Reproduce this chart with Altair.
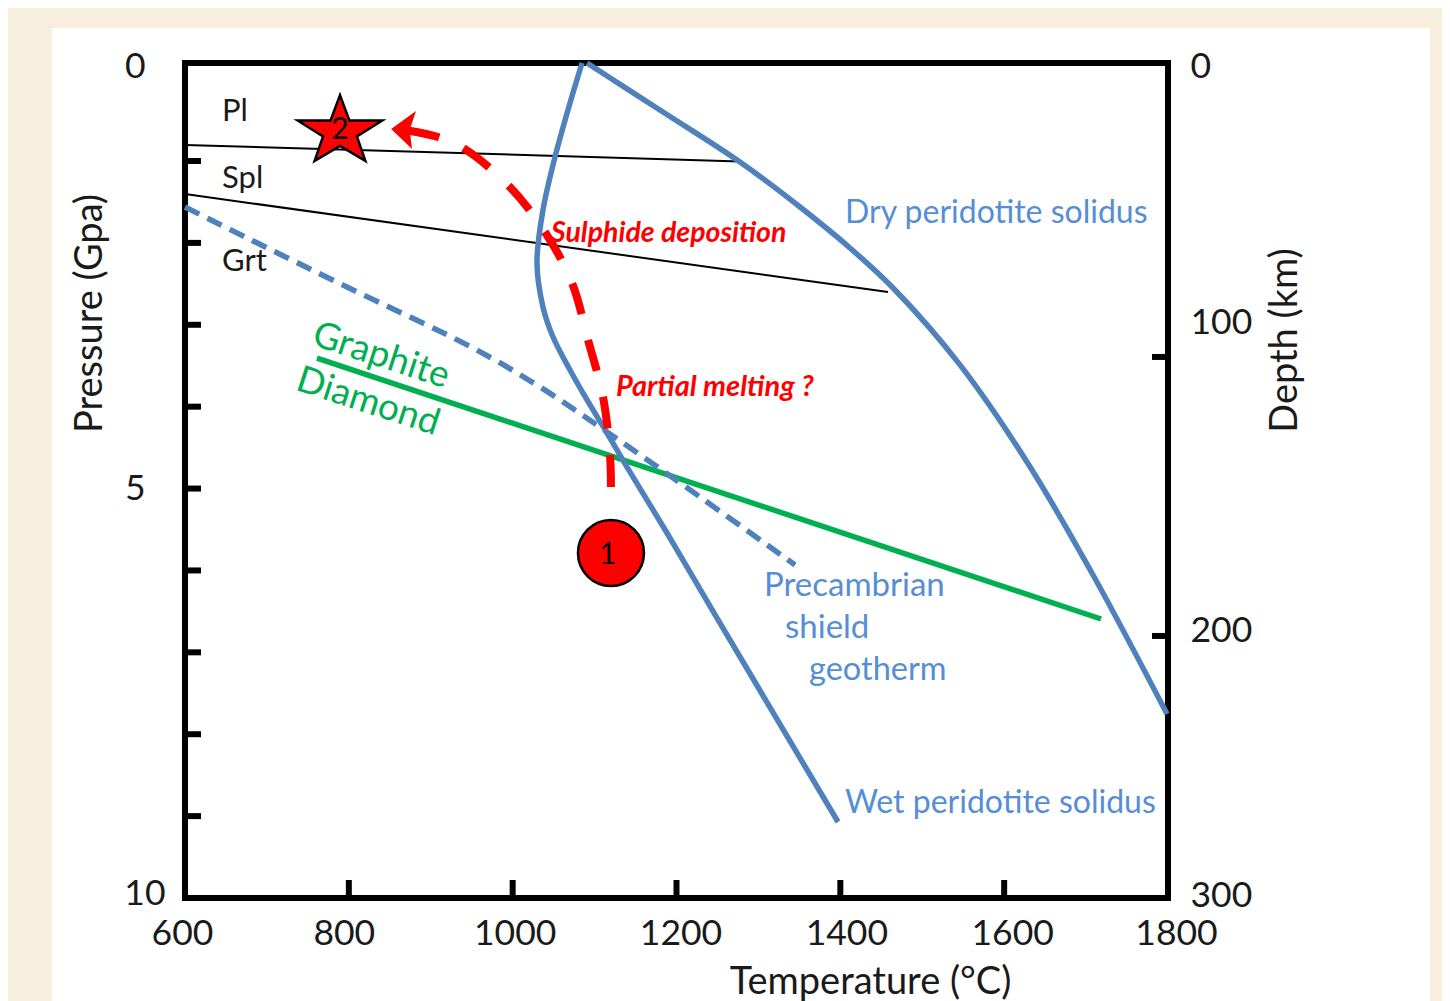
import altair as alt
import pandas as pd

FONT = "Lato"
BLUE = "#4f81bd"
TEXT_BLUE = "#558ed5"
GREEN = "#00b050"
RED = "#ff0000"

# Temperature (deg C) / pressure (GPa) pairs
dry_t = [1090.8, 1183.5, 1277.5, 1350.8, 1411.8, 1466.8, 1546.1, 1627.9, 1708.5, 1798.8]
dry_p = [0, 0.5, 1.012, 1.562, 2.062, 2.575, 3.49, 4.676, 6.056, 7.753]
wet_t = [1084.7, 1070, 1051.7, 1037, 1029.7, 1037, 1049.3, 1070, 1090.8, 1115.2, 1139.6, 1188.4, 1249.5, 1397.2]
wet_p = [0, 0.408, 0.959, 1.598, 2.246, 2.783, 3.149, 3.552, 3.918, 4.322, 4.737, 5.543, 6.581, 9.072]
geo_t = [600, 675.7, 797.8, 951.6, 1033.4, 1115.2, 1208, 1344.7]
geo_p = [1.562, 1.94, 2.539, 3.284, 3.76, 4.309, 4.956, 5.933]
gd_t = [761.1, 1718.3]
gd_p = [3.406, 6.593]
pl_t = [600, 1277.5]
pl_p = [0.837, 1.005]
spl_t = [600, 1458.2]
spl_p = [1.403, 2.6]
path_t = [1120, 1118.8, 1110.3, 1092, 1072.5, 1039.5, 994.3, 939.4, 908.9, 868.6]
path_p = [4.981, 4.59, 3.882, 3.186, 2.49, 1.867, 1.293, 0.867, 0.755, 0.684]

left_ticks = [1, 2, 3, 4, 5, 6, 7, 8, 9]
bottom_ticks = [800, 1000, 1200, 1400, 1600]
right_ticks = [3.393, 6.8]
x_values = [600, 800, 1000, 1200, 1400, 1600, 1800]
y_values = [0, 5, 10]
depth_values = [0, 100, 200, 300]

labels = [
    ("Pl", 645.2, 0.5, "#1a1a1a", 31, "normal", "normal", "left", 0),
    ("Spl", 645.2, 1.22, "#1a1a1a", 31, "normal", "normal", "left", 0),
    ("Grt", 645.2, 2.234, "#1a1a1a", 31, "normal", "normal", "left", 0),
    ("Graphite", 839.3, 3.381, GREEN, 37, "normal", "normal", "center", 18),
    ("Diamond", 823.4, 3.943, GREEN, 37, "normal", "normal", "center", 18),
    ("Precambrian", 1306.8, 6.19, TEXT_BLUE, 33, "normal", "normal", "left", 0),
    ("shield", 1332.5, 6.703, TEXT_BLUE, 33, "normal", "normal", "left", 0),
    ("geotherm", 1361.8, 7.216, TEXT_BLUE, 32.5, "normal", "normal", "left", 0),
    ("Dry peridotite solidus", 1405.7, 1.63, TEXT_BLUE, 32, "normal", "normal", "left", 0),
    ("Wet peridotite solidus", 1405.7, 8.835, TEXT_BLUE, 32, "normal", "normal", "left", 0),
    ("Sulphide deposition", 1046.8, 1.88, RED, 28.5, "bold", "italic", "left", 0),
    ("Partial melting ?", 1126.2, 3.76, RED, 29, "bold", "italic", "left", 0),
]

def cond(offsets, default=0):
    return {
        "condition": [{"test": f"datum.value == {k}", "value": v} for k, v in offsets.items()],
        "value": default,
    }

axis_style = dict(
    grid=False, domain=False, ticks=False, zindex=1,
    labelFont=FONT, labelFontSize=35.5, labelColor="#1a1a1a", labelOverlap=False, labelFlush=False,
    titleFont=FONT, titleFontSize=38, titleFontWeight="normal", titleColor="#1a1a1a",
)

x_scale = alt.Scale(domain=[600, 1800], range=[0, 983], nice=False, zero=False)
y_scale = alt.Scale(domain=[0, 1, 10], range=[0, 98, 835], nice=False, zero=False)
x_enc = alt.X(
    "t:Q", scale=x_scale,
    axis=alt.Axis(
        values=x_values, title="Temperature (°C)", format="d", orient="bottom",
        labelOffset=cond({600: -3, 800: -5, 1000: 2, 1200: 4, 1400: 6, 1600: 8, 1800: 8}),
        labelPadding=18, titleX=685, titleY=84, titleAlign="center", titleBaseline="middle",
        **axis_style,
    ),
)
y_enc = alt.Y(
    "p:Q", scale=y_scale,
    axis=alt.Axis(
        values=y_values, title="Pressure (Gpa)", format="d", orient="left",
        labelOffset=cond({0: 3, 10: -5}), labelPadding=cond({10: 20}, 40), labelBaseline="middle",
        titleX=-95, titleY=250, titleAngle=270, titleAlign="center", titleBaseline="middle",
        **axis_style,
    ),
)

def line(ts, ps, color, width, dash=None, interpolate="catmull-rom"):
    df = pd.DataFrame({"t": ts, "p": ps, "i": range(len(ts))})
    kw = dict(color=color, strokeWidth=width, interpolate=interpolate, clip=False, strokeCap="butt")
    if dash:
        kw["strokeDash"] = dash
    return alt.Chart(df).mark_line(**kw).encode(x=x_enc, y=y_enc, order=alt.Order("i:Q"))

def rule(df):
    enc = dict(x=x_enc, y=y_enc)
    if "t2" in df:
        enc["x2"] = "t2:Q"
    if "p2" in df:
        enc["y2"] = "p2:Q"
    return alt.Chart(df).mark_rule(color="black", strokeWidth=6).encode(**enc)

panel = alt.Chart(pd.DataFrame({"t": [437.6], "t2": [2120], "p": [-0.357], "p2": [11.26]})).mark_rect(
    color="white", clip=False
).encode(x=x_enc, x2="t2:Q", y=y_enc, y2="p2:Q")

frame = alt.Chart(pd.DataFrame({"t": [600], "t2": [1800], "p": [0], "p2": [10]})).mark_rect(
    fill="transparent", stroke="black", strokeWidth=6, strokeJoin="miter"
).encode(x=x_enc, x2="t2:Q", y=y_enc, y2="p2:Q")

ticks_l = rule(pd.DataFrame({"p": left_ticks, "t": [600] * 9, "t2": [619.5] * 9}))
ticks_r = rule(pd.DataFrame({"p": right_ticks, "t": [1800] * 2, "t2": [1780.5] * 2}))
ticks_b = rule(pd.DataFrame({"t": bottom_ticks, "p": [10] * 5, "p2": [9.78] * 5}))

ARROW = "M-1.04,0 L0.09,-0.82 L-0.2,0.05 L-0.09,0.91 Z"
STAR = ("M0,-0.76 L0.217,-0.174 L0.978,-0.174 L0.391,0.196 L0.587,0.761 L0,0.413 "
        "L-0.587,0.761 L-0.391,0.196 L-0.978,-0.174 L-0.217,-0.174 Z")

arrow = alt.Chart(pd.DataFrame({"t": [879.6], "p": [0.673]})).mark_point(
    shape=ARROW, size=1936, filled=True, color=RED, opacity=1
).encode(x=x_enc, y=y_enc)
star = alt.Chart(pd.DataFrame({"t": [789.2], "p": [0.663]})).mark_point(
    shape=STAR, size=7480, filled=True, fill=RED, stroke="black", strokeWidth=2.5, opacity=1
).encode(x=x_enc, y=y_enc)
circle = alt.Chart(pd.DataFrame({"t": [1120], "p": [5.787]})).mark_point(
    shape="circle", size=4356, filled=True, fill=RED, stroke="black", strokeWidth=2.5, opacity=1
).encode(x=x_enc, y=y_enc)
numbers = alt.Chart(pd.DataFrame({"t": [789.2, 1116], "p": [0.68, 5.81], "s": ["2", "1"]})).mark_text(
    font=FONT, fontSize=30, color="black", align="center", baseline="middle"
).encode(x=x_enc, y=y_enc, text="s:N")

texts = []
for s, t, p, col, fs, fw, fst, al, ang in labels:
    texts.append(
        alt.Chart(pd.DataFrame({"t": [t], "p": [p], "s": [s]})).mark_text(
            font=FONT, fontSize=fs, fontWeight=fw, fontStyle=fst, color=col, align=al,
            baseline="middle", angle=ang,
        ).encode(x=x_enc, y=y_enc, text="s:N")
    )

main = alt.layer(
    panel, frame, ticks_l, ticks_r, ticks_b,
    line(pl_t, pl_p, "black", 2, interpolate="linear"),
    line(spl_t, spl_p, "black", 2, interpolate="linear"),
    line(gd_t, gd_p, GREEN, 5.5, interpolate="linear"),
    line(geo_t, geo_p, BLUE, 5.5, dash=[16, 9]),
    line(wet_t, wet_p, BLUE, 5.5),
    line(dry_t, dry_p, BLUE, 5.5),
    line(path_t, path_p, RED, 8, dash=[32, 26.7]),
    arrow, star, circle, numbers, *texts,
)

depth = alt.Chart(pd.DataFrame({"t": [1800] * 4, "d": depth_values})).mark_point(opacity=0).encode(
    x=x_enc,
    y=alt.Y(
        "d:Q",
        scale=alt.Scale(domain=[0, 100, 200, 300], range=[0, 294, 572, 835], nice=False, zero=False),
        axis=alt.Axis(
            values=depth_values, title="Depth (km)", format="d", orient="right",
            labelOffset=cond({0: 3, 100: -35, 200: -5, 300: -3}), labelPadding=22, labelBaseline="middle",
            titleX=117, titleY=277, titleAngle=270, titleAlign="center", titleBaseline="middle",
            **axis_style,
        ),
    ),
)

chart = (
    alt.layer(main, depth)
    .resolve_scale(y="independent")
    .properties(
        width=983, height=835, background="#f7eedd",
        padding={"left": 177, "top": 55, "right": 274, "bottom": 103},
        autosize=alt.AutoSizeParams(type="none"),
    )
    .configure_view(stroke=None)
)

chart.save("out.html", embed_options={"renderer": "svg", "actions": False})
